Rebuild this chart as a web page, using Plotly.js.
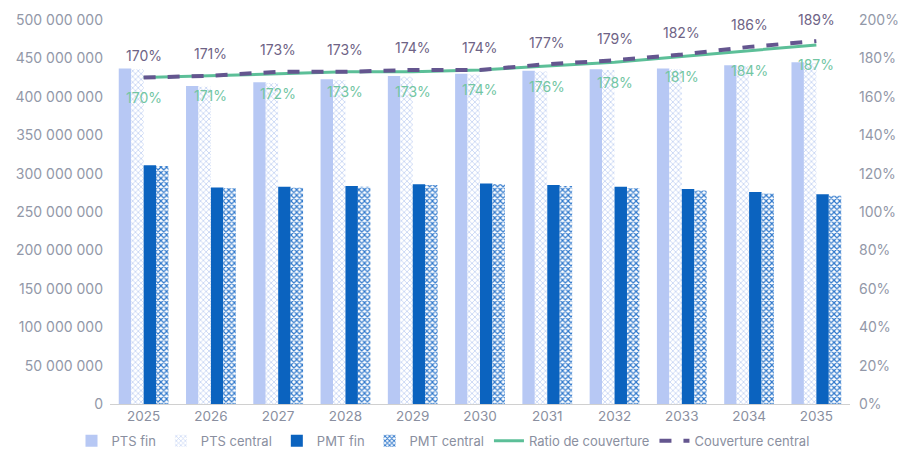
<!DOCTYPE html>
<html><head><meta charset="utf-8">
<script src="https://cdn.plot.ly/plotly-3.0.1.min.js"></script>
<style>body{margin:0;background:#fff}#c{width:898px;height:468px}</style>
</head><body><div id="c"></div>
<script>
const years = ['2025','2026','2027','2028','2029','2030','2031','2032','2033','2034','2035'];
const ptsFin = [437e6,414e6,419e6,423e6,427e6,430e6,434e6,436e6,437e6,441e6,445e6];
const ptsCentral = [436e6,413e6,418e6,422e6,426e6,429e6,433e6,435e6,436e6,440e6,444e6];
const pmtFin = [311e6,282e6,283e6,284e6,286e6,287e6,285e6,283e6,280e6,276e6,273e6];
const pmtCentral = [310e6,281e6,282e6,283e6,285e6,286e6,284e6,281e6,278e6,274e6,271e6];
const ratio = [1.70,1.71,1.72,1.73,1.73,1.74,1.76,1.78,1.81,1.84,1.87];
const ratioCentral = [1.70,1.71,1.73,1.73,1.74,1.74,1.77,1.79,1.82,1.86,1.89];
const pct = v => Math.round(v*100) + '%';

const traces = [
  {type:'bar', name:'PTS fin', x:years, y:ptsFin, marker:{color:'#b7c8f4'}},
  {type:'bar', name:'PTS central', x:years, y:ptsCentral,
   marker:{color:'#ffffff', pattern:{shape:'x', fgcolor:'#c9d7f5', bgcolor:'#ffffff', size:4, solidity:0.4}}},
  {type:'bar', name:'PMT fin', x:years, y:pmtFin, marker:{color:'#0b63bf'}},
  {type:'bar', name:'PMT central', x:years, y:pmtCentral,
   marker:{color:'#ffffff', pattern:{shape:'x', fgcolor:'#2f78cc', bgcolor:'#ffffff', size:4, solidity:0.5}}},
  {type:'scatter', mode:'lines', name:'Ratio de couverture', x:years, y:ratio, yaxis:'y2',
   line:{color:'#5cbf98', width:3}},
  {type:'scatter', mode:'lines', name:'Couverture central', x:years, y:ratioCentral, yaxis:'y2',
   line:{color:'#64568f', width:4, dash:'dash'}}
];

const annotations = [];
years.forEach((yr, i) => {
  annotations.push({x:i, y:ratioCentral[i], xref:'x', yref:'y2', text:pct(ratioCentral[i]),
    showarrow:false, yshift:22, font:{color:'#6e6385', size:14}});
  annotations.push({x:i, y:ratio[i], xref:'x', yref:'y2', text:pct(ratio[i]),
    showarrow:false, yshift:-20, font:{color:'#72c6a3', size:14}});
});

const layout = {
  width:898, height:468,
  margin:{l:110, r:48, t:20, b:60},
  paper_bgcolor:'#fff', plot_bgcolor:'#fff',
  font:{family:'Inter, "Open Sans", sans-serif', color:'#8a8fa0', size:14},
  separators:', ',
  barmode:'group', bargap:0.26, bargroupgap:0,
  showlegend:true,
  legend:{orientation:'h', x:0.45, xanchor:'center', y:-0.135, yanchor:'bottom',
          bgcolor:'rgba(0,0,0,0)', font:{color:'#8a8fa0', size:13}, traceorder:'normal'},
  annotations: annotations,
  xaxis:{type:'category', showgrid:false, showline:true, linecolor:'#d0d0d0', linewidth:1,
         ticks:'', tickfont:{color:'#8a8fa0', size:13.5}},
  yaxis:{range:[0,500e6], dtick:50e6, tickformat:',d', showgrid:false, zeroline:false,
         ticks:'', ticklabelstandoff:6, tickfont:{color:'#9298a8', size:14}},
  yaxis2:{overlaying:'y', side:'right', range:[0,2], dtick:0.2, tickformat:'.0%',
          showgrid:false, zeroline:false, ticks:'', ticklabelstandoff:8, tickfont:{color:'#9298a8', size:14}}
};
Plotly.newPlot('c', traces, layout, {displayModeBar:false, staticPlot:true});
</script></body></html>
